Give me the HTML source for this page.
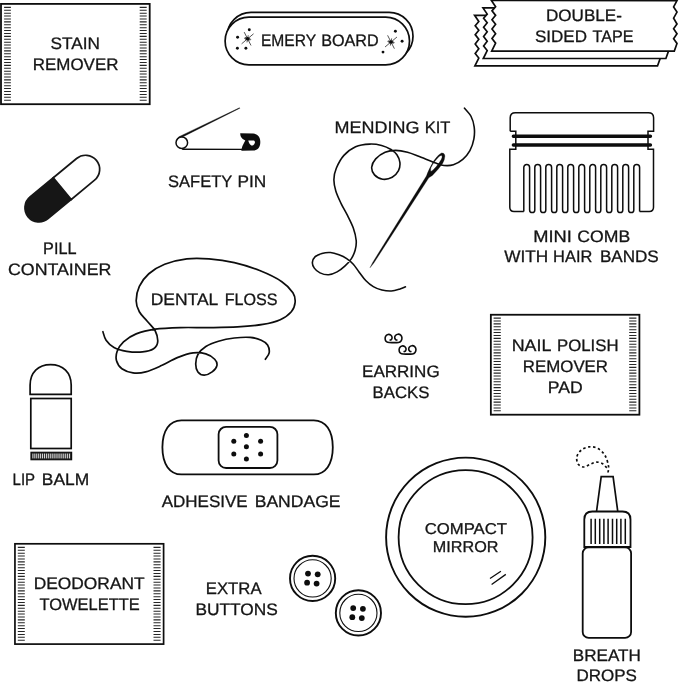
<!DOCTYPE html>
<html><head><meta charset="utf-8"><title>Emergency kit items</title>
<style>
html,body{margin:0;padding:0;background:#fff;}
body{width:679px;height:683px;overflow:hidden;}
svg{display:block;filter:grayscale(1);}
text{font-family:"Liberation Sans",sans-serif;font-size:16.6px;fill:#151515;stroke:#151515;stroke-width:0.3px;text-rendering:geometricPrecision;}
</style></head><body>
<svg width="679" height="683" viewBox="0 0 679 683">
<rect width="679" height="683" fill="#fff"/>
<rect x="1" y="3.9" width="148.7" height="100.3" fill="#fff" stroke="#0d0d0d" stroke-width="1.8"/>
<path d="M4.1,7.35H10.9M4.1,10.25H10.9M4.1,13.15H10.9M4.1,16.05H10.9M4.1,18.96H10.9M4.1,21.86H10.9M4.1,24.76H10.9M4.1,27.66H10.9M4.1,30.56H10.9M4.1,33.46H10.9M4.1,36.37H10.9M4.1,39.27H10.9M4.1,42.17H10.9M4.1,45.07H10.9M4.1,47.97H10.9M4.1,50.87H10.9M4.1,53.78H10.9M4.1,56.68H10.9M4.1,59.58H10.9M4.1,62.48H10.9M4.1,65.38H10.9M4.1,68.28H10.9M4.1,71.18H10.9M4.1,74.09H10.9M4.1,76.99H10.9M4.1,79.89H10.9M4.1,82.79H10.9M4.1,85.69H10.9M4.1,88.59H10.9M4.1,91.5H10.9M4.1,94.4H10.9M4.1,97.3H10.9M4.1,100.2H10.9" stroke="#262626" stroke-width="1.05" fill="none"/>
<path d="M139.7,7.35H146.7M139.7,10.25H146.7M139.7,13.15H146.7M139.7,16.05H146.7M139.7,18.96H146.7M139.7,21.86H146.7M139.7,24.76H146.7M139.7,27.66H146.7M139.7,30.56H146.7M139.7,33.46H146.7M139.7,36.37H146.7M139.7,39.27H146.7M139.7,42.17H146.7M139.7,45.07H146.7M139.7,47.97H146.7M139.7,50.87H146.7M139.7,53.78H146.7M139.7,56.68H146.7M139.7,59.58H146.7M139.7,62.48H146.7M139.7,65.38H146.7M139.7,68.28H146.7M139.7,71.18H146.7M139.7,74.09H146.7M139.7,76.99H146.7M139.7,79.89H146.7M139.7,82.79H146.7M139.7,85.69H146.7M139.7,88.59H146.7M139.7,91.5H146.7M139.7,94.4H146.7M139.7,97.3H146.7M139.7,100.2H146.7" stroke="#262626" stroke-width="1.05" fill="none"/>
<rect x="490.85" y="314.75" width="148.55" height="99.95" fill="#fff" stroke="#0d0d0d" stroke-width="1.8"/>
<path d="M493.6,318.1H500.8M493.6,321H500.8M493.6,323.89H500.8M493.6,326.79H500.8M493.6,329.69H500.8M493.6,332.58H500.8M493.6,335.48H500.8M493.6,338.38H500.8M493.6,341.28H500.8M493.6,344.17H500.8M493.6,347.07H500.8M493.6,349.97H500.8M493.6,352.86H500.8M493.6,355.76H500.8M493.6,358.66H500.8M493.6,361.55H500.8M493.6,364.45H500.8M493.6,367.35H500.8M493.6,370.24H500.8M493.6,373.14H500.8M493.6,376.04H500.8M493.6,378.93H500.8M493.6,381.83H500.8M493.6,384.73H500.8M493.6,387.62H500.8M493.6,390.52H500.8M493.6,393.42H500.8M493.6,396.32H500.8M493.6,399.21H500.8M493.6,402.11H500.8M493.6,405.01H500.8M493.6,407.9H500.8M493.6,410.8H500.8" stroke="#262626" stroke-width="1.05" fill="none"/>
<path d="M629.2,318.1H636.4M629.2,321H636.4M629.2,323.89H636.4M629.2,326.79H636.4M629.2,329.69H636.4M629.2,332.58H636.4M629.2,335.48H636.4M629.2,338.38H636.4M629.2,341.28H636.4M629.2,344.17H636.4M629.2,347.07H636.4M629.2,349.97H636.4M629.2,352.86H636.4M629.2,355.76H636.4M629.2,358.66H636.4M629.2,361.55H636.4M629.2,364.45H636.4M629.2,367.35H636.4M629.2,370.24H636.4M629.2,373.14H636.4M629.2,376.04H636.4M629.2,378.93H636.4M629.2,381.83H636.4M629.2,384.73H636.4M629.2,387.62H636.4M629.2,390.52H636.4M629.2,393.42H636.4M629.2,396.32H636.4M629.2,399.21H636.4M629.2,402.11H636.4M629.2,405.01H636.4M629.2,407.9H636.4M629.2,410.8H636.4" stroke="#262626" stroke-width="1.05" fill="none"/>
<rect x="14.95" y="543.8" width="148.65" height="100.3" fill="#fff" stroke="#0d0d0d" stroke-width="1.7"/>
<path d="M17.8,547.35H24.8M17.8,550.25H24.8M17.8,553.15H24.8M17.8,556.05H24.8M17.8,558.96H24.8M17.8,561.86H24.8M17.8,564.76H24.8M17.8,567.66H24.8M17.8,570.56H24.8M17.8,573.46H24.8M17.8,576.37H24.8M17.8,579.27H24.8M17.8,582.17H24.8M17.8,585.07H24.8M17.8,587.97H24.8M17.8,590.87H24.8M17.8,593.78H24.8M17.8,596.68H24.8M17.8,599.58H24.8M17.8,602.48H24.8M17.8,605.38H24.8M17.8,608.28H24.8M17.8,611.18H24.8M17.8,614.09H24.8M17.8,616.99H24.8M17.8,619.89H24.8M17.8,622.79H24.8M17.8,625.69H24.8M17.8,628.59H24.8M17.8,631.5H24.8M17.8,634.4H24.8M17.8,637.3H24.8M17.8,640.2H24.8" stroke="#262626" stroke-width="1.05" fill="none"/>
<path d="M153.5,547.35H160.6M153.5,550.25H160.6M153.5,553.15H160.6M153.5,556.05H160.6M153.5,558.96H160.6M153.5,561.86H160.6M153.5,564.76H160.6M153.5,567.66H160.6M153.5,570.56H160.6M153.5,573.46H160.6M153.5,576.37H160.6M153.5,579.27H160.6M153.5,582.17H160.6M153.5,585.07H160.6M153.5,587.97H160.6M153.5,590.87H160.6M153.5,593.78H160.6M153.5,596.68H160.6M153.5,599.58H160.6M153.5,602.48H160.6M153.5,605.38H160.6M153.5,608.28H160.6M153.5,611.18H160.6M153.5,614.09H160.6M153.5,616.99H160.6M153.5,619.89H160.6M153.5,622.79H160.6M153.5,625.69H160.6M153.5,628.59H160.6M153.5,631.5H160.6M153.5,634.4H160.6M153.5,637.3H160.6M153.5,640.2H160.6" stroke="#262626" stroke-width="1.05" fill="none"/>
<rect x="227.2" y="12.4" width="185.8" height="47.6" rx="23.8" fill="#fff" stroke="#0d0d0d" stroke-width="1.7"/>
<rect x="225.1" y="17.2" width="184.4" height="47.6" rx="23.8" fill="#fff" stroke="#0d0d0d" stroke-width="1.7"/>
<path d="M241.62,43.81L253.58,33.79M251,45.48L244.2,32.12M244.05,38.17L251.15,39.43M246.97,42.35L248.23,35.25M250.2,40.3L245,37.3M245.09,39.47L250.11,38.13" stroke="#0d0d0d" stroke-width="0.7" fill="none"/>
<circle cx="247.6" cy="38.8" r="1.7" fill="#0d0d0d"/>
<circle cx="249.3" cy="29.8" r="1.45" fill="#0d0d0d"/>
<circle cx="237.6" cy="37.2" r="1.45" fill="#0d0d0d"/>
<circle cx="237.4" cy="48.3" r="1.45" fill="#0d0d0d"/>
<circle cx="245.9" cy="48.3" r="1.45" fill="#0d0d0d"/>
<path d="M385.02,47.01L396.98,36.99M394.4,48.68L387.6,35.32M387.45,41.37L394.55,42.63M390.37,45.55L391.63,38.45M393.6,43.5L388.4,40.5M388.49,42.67L393.51,41.33" stroke="#0d0d0d" stroke-width="0.7" fill="none"/>
<circle cx="391" cy="42" r="1.7" fill="#0d0d0d"/>
<circle cx="395.4" cy="31.2" r="1.45" fill="#0d0d0d"/>
<circle cx="402.1" cy="41.2" r="1.45" fill="#0d0d0d"/>
<circle cx="383" cy="52.1" r="1.45" fill="#0d0d0d"/>
<path d="M491.7,51.3L495.6,43.4L492,38.8L495.6,34L492,29.3L495.6,24.5L492,20L495.6,15.6L492,11.1L495.6,6.9L491.4,0.7L677,0.8L673.6,7.2L677,12.4L673.6,18.4L677,24.2L673.6,29L677,33.9L673.6,39L677,43.7L674.3,51.3Z" transform="translate(-16.8 14.65)" fill="#fff" stroke="#0d0d0d" stroke-width="1.7" stroke-linejoin="miter"/>
<path d="M491.7,51.3L495.6,43.4L492,38.8L495.6,34L492,29.3L495.6,24.5L492,20L495.6,15.6L492,11.1L495.6,6.9L491.4,0.7L677,0.8L673.6,7.2L677,12.4L673.6,18.4L677,24.2L673.6,29L677,33.9L673.6,39L677,43.7L674.3,51.3Z" transform="translate(-8.4 7.2)" fill="#fff" stroke="#0d0d0d" stroke-width="1.7" stroke-linejoin="miter"/>
<path d="M491.7,51.3L495.6,43.4L492,38.8L495.6,34L492,29.3L495.6,24.5L492,20L495.6,15.6L492,11.1L495.6,6.9L491.4,0.7L677,0.8L673.6,7.2L677,12.4L673.6,18.4L677,24.2L673.6,29L677,33.9L673.6,39L677,43.7L674.3,51.3Z" transform="translate(0 -0.25)" fill="#fff" stroke="#0d0d0d" stroke-width="1.7" stroke-linejoin="miter"/>
<path d="M182.2,149.3 L242,149.4" stroke="#0d0d0d" stroke-width="1.4" fill="none"/>
<path d="M178.3,138.3 L178.6,136.9 L239.5,107.8 L239.8,108.2 L179.6,138.4Z" fill="#0d0d0d" stroke="#0d0d0d" stroke-width="0.4"/>
<circle cx="181.8" cy="142.7" r="5.8" fill="#fff" stroke="#0d0d0d" stroke-width="1.5"/>
<path fill-rule="evenodd" d="M240.2,133.2 L253.2,133.5 Q258.2,134.2 259.6,138 Q260.8,141 260,145 Q259,149 255.9,150 Q254.5,150.5 253.2,150.5 L241.5,150.7 L241.3,149.9 Q241.8,146.5 244.2,142.5 L245.3,140.6 Q242.4,139.2 241,136.9 Q240.2,135.3 240.2,133.2Z M248.3,140.4 L254,140.6 Q255.2,141.4 254.9,142.7 Q254.4,144.4 253.2,145.2 Q252.1,145.8 251.3,145.5 Q250,144.8 249.4,143.6 Q248.6,142 248.3,140.4Z" fill="#0d0d0d"/>
<g transform="rotate(-39.6 62.3 188.6)"><path d="M62.3,174.5 H32.1 A14.1,14.1 0 0 0 32.1,202.7 H62.3Z" fill="#161616" stroke="#161616" stroke-width="1.7"/><path d="M62.3,174.5 H92.5 A14.1,14.1 0 0 1 92.5,202.7 H62.3Z" fill="#fff" stroke="#161616" stroke-width="1.7"/></g>
<path d="M464.5,108.2C465.6,109.58 469.48,113.35 471.1,116.5C472.72,119.65 473.73,123.37 474.2,127.1C474.67,130.83 474.62,134.97 473.9,138.9C473.18,142.83 471.75,147.28 469.9,150.7C468.05,154.12 465.55,157.05 462.8,159.4C460.05,161.75 456.53,163.78 453.4,164.8C450.27,165.82 446.95,165.78 444,165.5C441.05,165.22 437.67,163.73 435.7,163.1C433.73,162.47 434.93,162.78 432.2,161.7C429.47,160.62 423.42,158.17 419.3,156.6C415.18,155.03 411.43,153.33 407.5,152.3C403.57,151.27 399.43,150.4 395.7,150.4C391.97,150.4 388.43,150.88 385.1,152.3C381.77,153.72 377.93,156.42 375.7,158.9C373.47,161.38 371.9,164.53 371.7,167.2C371.5,169.87 372.67,172.9 374.5,174.9C376.33,176.9 379.75,178.8 382.7,179.2C385.65,179.6 389.57,178.72 392.2,177.3C394.83,175.88 397.22,173.18 398.5,170.7C399.78,168.22 400.17,165.07 399.9,162.4C399.63,159.73 398.38,156.85 396.9,154.7C395.42,152.55 393.55,151.03 391,149.5C388.45,147.97 385.13,146.4 381.6,145.5C378.07,144.6 374.13,143.9 369.8,144.1C365.47,144.3 359.92,144.82 355.6,146.7C351.28,148.58 347.12,151.8 343.9,155.4C340.68,159 337.97,164.28 336.3,168.3C334.63,172.32 333.98,175.72 333.9,179.5C333.82,183.28 334.62,187.03 335.8,191C336.98,194.97 339.03,199.18 341,203.3C342.97,207.42 345.55,211.57 347.6,215.7C349.65,219.83 351.87,223.97 353.3,228.1C354.73,232.23 355.88,236.85 356.2,240.5C356.52,244.15 356,246.98 355.2,250C354.4,253.02 353.13,255.9 351.4,258.6C349.67,261.3 347.18,263.98 344.8,266.2C342.42,268.42 339.8,270.47 337.1,271.9C334.4,273.33 331.45,274.63 328.6,274.8C325.75,274.97 322.38,274.02 320,272.9C317.62,271.78 315.57,269.85 314.3,268.1C313.03,266.35 312.25,264.3 312.4,262.4C312.55,260.5 313.62,258.2 315.2,256.7C316.78,255.2 319.35,254.1 321.9,253.4C324.45,252.7 327.65,252.27 330.5,252.5C333.35,252.73 336.3,253.78 339,254.8C341.7,255.82 344.32,257.02 346.7,258.6C349.08,260.18 351.25,262.08 353.3,264.3C355.35,266.52 356.93,269.2 359,271.9C361.07,274.6 363.32,278.05 365.7,280.5C368.08,282.95 370.6,285.02 373.3,286.6C376,288.18 378.88,289.27 381.9,290C384.92,290.73 388.38,291.17 391.4,291C394.42,290.83 397.67,289.7 400,289C402.33,288.3 404.5,287.17 405.4,286.8" fill="none" stroke="#0d0d0d" stroke-width="1.6" stroke-linecap="round"/>
<path fill-rule="evenodd" d="M370,267.8 L372.7,262.4 L426.4,176 Q428.6,169.5 434,160.6 Q438.5,154 441.6,152.9 Q444.6,152.6 444.9,156 Q444.6,160.5 442.6,163.5 Q438.8,169 432.4,175.4 L428.8,177.8 L373.8,263.1 Z M441.8,155.5 Q442.6,156.8 441.2,159.6 Q439,163.5 436.1,166.8 Q433.4,170 430.9,171.6 Q430.4,170 430.9,167.8 Q432.6,164 435.1,161.1 Q437.4,158 439.2,156.5 Q440.8,155.2 441.8,155.5Z" fill="#0d0d0d" stroke="#0d0d0d" stroke-width="0.3" stroke-linejoin="round"/>
<path d="M510.2,131.2 V117.8 Q510.2,112.7 515.4,112.7 H648.4 Q653.6,112.7 653.6,117.8 V131.2 H648.0 V149.3 H653.5 V207.2 Q653.5,211.4 649.3,211.4 H639.6" fill="none" stroke="#0d0d0d" stroke-width="1.5"/>
<path d="M510.2,131.2 H515.8 V149.3 H509.8 V207.2 Q509.8,211.4 514,211.4 H523.8" fill="none" stroke="#0d0d0d" stroke-width="1.5"/>
<path d="M523.8,211.4V167.4A2.9,2.9 0 0 1 529.6,167.4V209.9A2.6,2.6 0 0 0 534.8,209.9V167.4A2.9,2.9 0 0 1 540.6,167.4V209.9A2.6,2.6 0 0 0 545.8,209.9V167.4A2.9,2.9 0 0 1 551.6,167.4V209.9A2.6,2.6 0 0 0 556.8,209.9V167.4A2.9,2.9 0 0 1 562.6,167.4V209.9A2.6,2.6 0 0 0 567.8,209.9V167.4A2.9,2.9 0 0 1 573.6,167.4V209.9A2.6,2.6 0 0 0 578.8,209.9V167.4A2.9,2.9 0 0 1 584.6,167.4V209.9A2.6,2.6 0 0 0 589.8,209.9V167.4A2.9,2.9 0 0 1 595.6,167.4V209.9A2.6,2.6 0 0 0 600.8,209.9V167.4A2.9,2.9 0 0 1 606.6,167.4V209.9A2.6,2.6 0 0 0 611.8,209.9V167.4A2.9,2.9 0 0 1 617.6,167.4V209.9A2.6,2.6 0 0 0 622.8,209.9V167.4A2.9,2.9 0 0 1 628.6,167.4V209.9A2.6,2.6 0 0 0 633.8,209.9V167.4A2.9,2.9 0 0 1 639.6,167.4V211.4" fill="none" stroke="#0d0d0d" stroke-width="1.5"/>
<path d="M513.4,136.3H650.4M513.4,145.1H650.4" stroke="#0d0d0d" stroke-width="3.5" stroke-linecap="round" fill="none"/>
<path d="M102.92,331.7C103.44,333.12 104.24,337.61 106.08,340.25C107.93,342.89 110.57,345.68 114,347.53C117.43,349.38 121.92,350.59 126.67,351.33C131.42,352.07 138.01,352.39 142.5,351.96C146.98,351.54 151.05,350.49 153.58,348.8C156.11,347.11 157.43,344.84 157.7,341.83C157.96,338.82 156.91,334.18 155.16,330.75C153.42,327.32 149.89,324.41 147.25,321.25C144.61,318.08 141.18,315.18 139.33,311.75C137.48,308.32 136.17,304.89 136.17,300.66C136.17,296.44 137.22,290.9 139.33,286.42C141.44,281.93 144.61,277.44 148.83,273.75C153.05,270.05 158.33,266.73 164.66,264.25C171,261.77 179.44,259.76 186.83,258.87C194.22,257.97 201.08,258.23 209,258.87C216.91,259.5 225.88,260.71 234.33,262.67C242.77,264.62 251.74,267.42 259.66,270.58C267.58,273.75 276.29,277.97 281.83,281.67C287.37,285.36 290.69,289.32 292.91,292.75C295.13,296.18 295.39,299.08 295.13,302.25C294.86,305.41 293.81,308.85 291.33,311.75C288.85,314.65 284.99,317.55 280.24,319.66C275.49,321.78 269.95,323.2 262.83,324.41C255.7,325.63 246.47,326.42 237.5,326.95C228.52,327.48 218.5,327.48 209,327.58C199.5,327.69 189.47,327.32 180.5,327.58C171.53,327.84 162.55,328.11 155.16,329.16C147.78,330.22 141.44,331.8 136.17,333.91C130.89,336.02 126.67,338.93 123.5,341.83C120.33,344.73 118.33,348.16 117.17,351.33C116,354.5 115.74,357.93 116.53,360.83C117.32,363.73 119.17,366.74 121.92,368.75C124.66,370.75 129.04,372.33 133,372.86C136.96,373.39 140.92,373.13 145.66,371.91C150.41,370.7 156.22,367.95 161.5,365.58C166.78,363.2 172.05,359.77 177.33,357.66C182.61,355.55 188.41,353.55 193.16,352.91C197.91,352.28 202.24,352.81 205.83,353.86C209.42,354.92 212.85,357.29 214.7,359.25C216.54,361.2 217.33,363.47 216.91,365.58C216.49,367.69 214.27,370.33 212.16,371.91C210.05,373.5 206.62,375.08 204.25,375.08C201.87,375.08 199.34,373.76 197.91,371.91C196.49,370.07 195.7,366.9 195.7,364C195.7,361.09 196.22,357.4 197.91,354.5C199.6,351.59 202.4,348.8 205.83,346.58C209.26,344.36 213.75,342.62 218.5,341.2C223.25,339.77 229.05,338.66 234.33,338.03C239.61,337.4 245.68,337.03 250.16,337.4C254.65,337.77 258.34,338.98 261.24,340.25C264.15,341.51 266.26,342.89 267.58,345C268.9,347.11 269.53,350.54 269.16,352.91C268.79,355.29 265.99,358.19 265.36,359.25" fill="none" stroke="#0d0d0d" stroke-width="1.7" stroke-linecap="round"/>
<path d="M390.2,340.06C390.41,339.96 391.13,339.9 391.44,339.44C391.75,338.98 392.16,338 392.06,337.28C391.96,336.55 391.49,335.58 390.82,335.11C390.15,334.65 388.92,334.29 388.04,334.49C387.16,334.7 386.03,335.47 385.57,336.35C385.1,337.22 385.05,338.82 385.26,339.75C385.46,340.68 386.13,341.45 386.8,341.91C387.47,342.38 388.09,342.42 389.28,342.53C390.46,342.65 392.37,342.59 393.91,342.59C395.46,342.59 397.37,342.8 398.55,342.53C399.74,342.27 400.46,341.76 401.03,340.99C401.59,340.21 402.01,338.87 401.95,337.89C401.9,336.92 401.39,335.73 400.72,335.11C400.05,334.49 398.81,334.13 397.93,334.18C397.06,334.24 396,334.8 395.46,335.42C394.92,336.04 394.67,337.17 394.72,337.89C394.77,338.62 395.42,339.39 395.77,339.75C396.12,340.11 396.65,340.01 396.82,340.06" fill="none" stroke="#0d0d0d" stroke-width="1.6" stroke-linecap="round"/>
<path d="M390.2,340.06C390.41,339.96 391.13,339.9 391.44,339.44C391.75,338.98 392.16,338 392.06,337.28C391.96,336.55 391.49,335.58 390.82,335.11C390.15,334.65 388.92,334.29 388.04,334.49C387.16,334.7 386.03,335.47 385.57,336.35C385.1,337.22 385.05,338.82 385.26,339.75C385.46,340.68 386.13,341.45 386.8,341.91C387.47,342.38 388.09,342.42 389.28,342.53C390.46,342.65 392.37,342.59 393.91,342.59C395.46,342.59 397.37,342.8 398.55,342.53C399.74,342.27 400.46,341.76 401.03,340.99C401.59,340.21 402.01,338.87 401.95,337.89C401.9,336.92 401.39,335.73 400.72,335.11C400.05,334.49 398.81,334.13 397.93,334.18C397.06,334.24 396,334.8 395.46,335.42C394.92,336.04 394.67,337.17 394.72,337.89C394.77,338.62 395.42,339.39 395.77,339.75C396.12,340.11 396.65,340.01 396.82,340.06" transform="translate(14.0 11.5)" fill="none" stroke="#0d0d0d" stroke-width="1.6" stroke-linecap="round"/>
<path d="M30.1,394.3 V385.1 C30.1,372.6 38.2,364.6 50.6,364.6 C63,364.6 71.2,372.6 71.2,385.1 V394.3 Z" fill="#fff" stroke="#0d0d0d" stroke-width="1.7"/>
<rect x="30.8" y="398.5" width="40.4" height="50" fill="#fff" stroke="#0d0d0d" stroke-width="1.7"/>
<rect x="31.0" y="452.3" width="40.6" height="7.4" fill="#222" stroke="#0d0d0d" stroke-width="1.2"/>
<path d="M32.9,453.6V458.4M34.83,453.6V458.4M36.76,453.6V458.4M38.69,453.6V458.4M40.62,453.6V458.4M42.55,453.6V458.4M44.48,453.6V458.4M46.41,453.6V458.4M48.34,453.6V458.4M50.27,453.6V458.4M52.2,453.6V458.4M54.13,453.6V458.4M56.06,453.6V458.4M57.99,453.6V458.4M59.92,453.6V458.4M61.85,453.6V458.4M63.78,453.6V458.4M65.71,453.6V458.4M67.64,453.6V458.4M69.57,453.6V458.4" stroke="#fff" stroke-width="0.85" fill="none"/>
<path d="M181.4,420.3H313.8C325.58,420.3 332.8,430.58 332.8,447.35C332.8,464.12 325.58,474.4 313.8,474.4H181.4C169.62,474.4 162.4,464.12 162.4,447.35C162.4,430.58 169.62,420.3 181.4,420.3Z" fill="#fff" stroke="#0d0d0d" stroke-width="1.8"/>
<rect x="218.6" y="426.8" width="58.8" height="41.2" rx="7.5" fill="#fff" stroke="#0d0d0d" stroke-width="1.8"/>
<circle cx="246.4" cy="446.8" r="2.5" fill="#0d0d0d"/>
<circle cx="246.4" cy="435.6" r="2.5" fill="#0d0d0d"/>
<circle cx="246.4" cy="459.1" r="2.5" fill="#0d0d0d"/>
<circle cx="233.8" cy="441.2" r="2.5" fill="#0d0d0d"/>
<circle cx="260.6" cy="441.2" r="2.5" fill="#0d0d0d"/>
<circle cx="233.8" cy="453.9" r="2.5" fill="#0d0d0d"/>
<circle cx="260.6" cy="453.9" r="2.5" fill="#0d0d0d"/>
<circle cx="465.7" cy="537.2" r="79.6" fill="#fff" stroke="#0d0d0d" stroke-width="1.9"/>
<circle cx="465.6" cy="537.2" r="67.0" fill="#fff" stroke="#0d0d0d" stroke-width="1.8"/>
<path d="M490,578.5L500.9,571.2M491.6,584.5L505.8,574.4" stroke="#0d0d0d" stroke-width="1.3" fill="none"/>
<path d="M596.6,511 L601.2,476.7 H613.1 L617.7,511" fill="#fff" stroke="#0d0d0d" stroke-width="1.7" stroke-linejoin="miter"/>
<path d="M584.3,547 V519.5 Q584.3,511.5 592.3,511.5 H622.5 Q630.5,511.5 630.5,519.5 V547 Z" fill="#fff" stroke="#0d0d0d" stroke-width="1.8"/>
<path d="M591.1,518.8V543.9M595.3,518.8V543.9M599.7,518.8V543.9M603.9,518.8V543.9M608.1,518.8V543.9M612.5,518.8V543.9M616.7,518.8V543.9M620.9,518.8V543.9M625.3,518.8V543.9" stroke="#0d0d0d" stroke-width="1.5" fill="none"/>
<rect x="582.7" y="547.3" width="48.4" height="90.6" rx="6" fill="#fff" stroke="#0d0d0d" stroke-width="1.8"/>
<path d="M608,472.5C608.08,471.43 609,468.95 608.5,466.1C608,463.25 606.75,458.32 605,455.4C603.25,452.48 600.62,450.03 598,448.6C595.38,447.17 592.1,446.53 589.3,446.8C586.5,447.07 583.28,448.5 581.2,450.2C579.12,451.9 577.28,454.65 576.8,457C576.32,459.35 577.13,462.63 578.3,464.3C579.47,465.97 581.82,467 583.8,467C585.78,467 588.07,465.12 590.2,464.3C592.33,463.48 594.47,462.17 596.6,462.1C598.73,462.03 601.32,462.93 603,463.9C604.68,464.87 606.08,467.23 606.7,467.9" fill="none" stroke="#0d0d0d" stroke-width="1.7" stroke-dasharray="2.5 2.55"/>
<circle cx="312.6" cy="578.4" r="22.6" fill="#fff" stroke="#0d0d0d" stroke-width="1.9"/>
<circle cx="312.6" cy="578.4" r="18.6" fill="#fff" stroke="#0d0d0d" stroke-width="1.1"/>
<circle cx="308" cy="573.6" r="2.9" fill="#0d0d0d"/>
<circle cx="317.7" cy="574.3" r="2.9" fill="#0d0d0d"/>
<circle cx="307.1" cy="582.7" r="2.9" fill="#0d0d0d"/>
<circle cx="316.6" cy="583.6" r="2.9" fill="#0d0d0d"/>
<circle cx="358.4" cy="612.9" r="22.6" fill="#fff" stroke="#0d0d0d" stroke-width="1.9"/>
<circle cx="358.4" cy="612.9" r="18.6" fill="#fff" stroke="#0d0d0d" stroke-width="1.1"/>
<circle cx="353.2" cy="608.1" r="2.9" fill="#0d0d0d"/>
<circle cx="362.9" cy="608.8" r="2.9" fill="#0d0d0d"/>
<circle cx="352.3" cy="617.2" r="2.9" fill="#0d0d0d"/>
<circle cx="361.8" cy="618.1" r="2.9" fill="#0d0d0d"/>
<g>
<text x="50.51" y="48.9" textLength="49.43" lengthAdjust="spacingAndGlyphs">STAIN</text>
<text x="32.82" y="69.6" textLength="85.58" lengthAdjust="spacingAndGlyphs">REMOVER</text>
<text x="260.95" y="46.3" textLength="55.16" lengthAdjust="spacingAndGlyphs">EMERY</text>
<text x="321.13" y="46.3" textLength="57.53" lengthAdjust="spacingAndGlyphs">BOARD</text>
<text x="546.02" y="21.1" textLength="75.83" lengthAdjust="spacingAndGlyphs">DOUBLE-</text>
<text x="534.93" y="42.2" textLength="52.01" lengthAdjust="spacingAndGlyphs">SIDED</text>
<text x="592.49" y="42.2" textLength="41.02" lengthAdjust="spacingAndGlyphs">TAPE</text>
<text x="168.1" y="187" textLength="64.1" lengthAdjust="spacingAndGlyphs">SAFETY</text>
<text x="237.55" y="187" textLength="28.8" lengthAdjust="spacingAndGlyphs">PIN</text>
<text x="334.61" y="133.1" textLength="84.87" lengthAdjust="spacingAndGlyphs">MENDING</text>
<text x="424.75" y="133.1" textLength="25.71" lengthAdjust="spacingAndGlyphs">KIT</text>
<text x="43.1" y="254.2" textLength="33.45" lengthAdjust="spacingAndGlyphs">PILL</text>
<text x="7.97" y="274.7" textLength="103.37" lengthAdjust="spacingAndGlyphs">CONTAINER</text>
<text x="533.21" y="241.8" textLength="38.6" lengthAdjust="spacingAndGlyphs">MINI</text>
<text x="577.36" y="241.8" textLength="52.88" lengthAdjust="spacingAndGlyphs">COMB</text>
<text x="504.31" y="261.6" textLength="44.01" lengthAdjust="spacingAndGlyphs">WITH</text>
<text x="553.11" y="261.6" textLength="39.2" lengthAdjust="spacingAndGlyphs">HAIR</text>
<text x="599.9" y="261.6" textLength="58.88" lengthAdjust="spacingAndGlyphs">BANDS</text>
<text x="150.7" y="304.8" textLength="67.62" lengthAdjust="spacingAndGlyphs">DENTAL</text>
<text x="224.63" y="304.8" textLength="52.83" lengthAdjust="spacingAndGlyphs">FLOSS</text>
<text x="362.04" y="377" textLength="77.64" lengthAdjust="spacingAndGlyphs">EARRING</text>
<text x="372.57" y="397.8" textLength="56.78" lengthAdjust="spacingAndGlyphs">BACKS</text>
<text x="511.74" y="350.8" textLength="39.68" lengthAdjust="spacingAndGlyphs">NAIL</text>
<text x="557.06" y="350.8" textLength="61.44" lengthAdjust="spacingAndGlyphs">POLISH</text>
<text x="522.88" y="372" textLength="85.13" lengthAdjust="spacingAndGlyphs">REMOVER</text>
<text x="547.89" y="393.1" textLength="34.84" lengthAdjust="spacingAndGlyphs">PAD</text>
<text x="12.56" y="485.3" textLength="22.54" lengthAdjust="spacingAndGlyphs">LIP</text>
<text x="41.82" y="485.3" textLength="47.33" lengthAdjust="spacingAndGlyphs">BALM</text>
<text x="161.67" y="506.7" textLength="85.96" lengthAdjust="spacingAndGlyphs">ADHESIVE</text>
<text x="254.68" y="506.7" textLength="85.84" lengthAdjust="spacingAndGlyphs">BANDAGE</text>
<text x="424.73" y="533.8" textLength="82.28" lengthAdjust="spacingAndGlyphs" style="font-size:15.6px">COMPACT</text>
<text x="432.79" y="552.4" textLength="65.67" lengthAdjust="spacingAndGlyphs" style="font-size:15.6px">MIRROR</text>
<text x="572.82" y="661" textLength="68.11" lengthAdjust="spacingAndGlyphs">BREATH</text>
<text x="576.44" y="680.7" textLength="60.48" lengthAdjust="spacingAndGlyphs">DROPS</text>
<text x="33.69" y="588.9" textLength="110.94" lengthAdjust="spacingAndGlyphs">DEODORANT</text>
<text x="39.58" y="609.7" textLength="100.18" lengthAdjust="spacingAndGlyphs">TOWELETTE</text>
<text x="205.84" y="593.9" textLength="55.7" lengthAdjust="spacingAndGlyphs">EXTRA</text>
<text x="195.4" y="614.9" textLength="82.38" lengthAdjust="spacingAndGlyphs">BUTTONS</text>
</g>
</svg>
</body></html>
